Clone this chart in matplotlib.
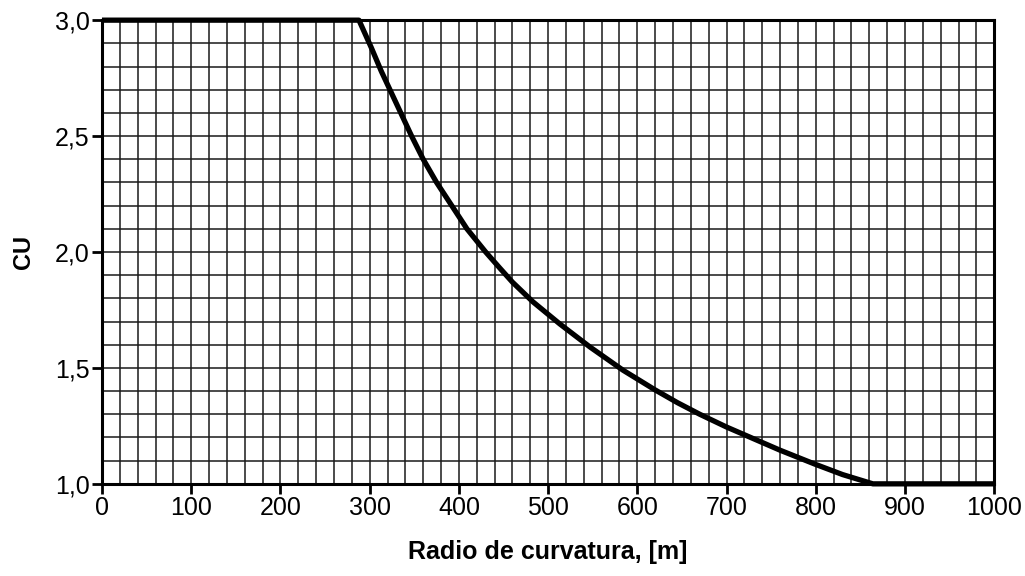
import numpy as np
import matplotlib
matplotlib.use('Agg')
import matplotlib.pyplot as plt
from matplotlib.ticker import MultipleLocator, FuncFormatter

# values
radio = [0, 288, 302, 313, 330, 347, 360, 375, 392, 409, 430, 446, 460, 483,
         513, 547, 584, 620, 645, 670, 700, 721, 760, 799, 830, 864, 1000]
cu = [3.0, 3.0, 2.88, 2.78, 2.64, 2.5, 2.4, 2.3, 2.2, 2.1, 2.0, 1.93, 1.87,
      1.785, 1.69, 1.59, 1.49, 1.405, 1.35, 1.3, 1.245, 1.21, 1.145, 1.085,
      1.04, 1.0, 1.0]
x_ticks = [0, 100, 200, 300, 400, 500, 600, 700, 800, 900, 1000]
y_ticks = [1.0, 1.5, 2.0, 2.5, 3.0]

plt.rcParams['font.family'] = ['Liberation Sans', 'DejaVu Sans']

fig = plt.figure(figsize=(10.25, 5.76), dpi=100)
ax = fig.add_axes([0.0995, 0.160, 0.8705, 0.805])

ax.set_xlim(0, 1000)
ax.set_ylim(1.0, 3.0)
ax.set_xticks(x_ticks)
ax.set_yticks(y_ticks)
ax.xaxis.set_minor_locator(MultipleLocator(20))
ax.yaxis.set_minor_locator(MultipleLocator(0.1))
ax.yaxis.set_major_formatter(FuncFormatter(lambda v, p: f"{v:.1f}".replace('.', ',')))

ax.grid(which='both', color='#1a1a1a', linewidth=1.1)
ax.set_axisbelow(True)
ax.tick_params(which='minor', length=0)
ax.tick_params(which='major', direction='out', length=7, width=2,
               labelsize=18, pad=2)

for s in ax.spines.values():
    s.set_linewidth(2.2)
    s.set_color('black')

ax.plot(radio, cu, color='black', linewidth=3.8, solid_capstyle='butt',
        solid_joinstyle='round', clip_on=False, zorder=5)

ax.set_xlabel('Radio de curvatura, [m]', fontsize=18, fontweight='bold', labelpad=14)
ax.set_ylabel('CU', fontsize=17, fontweight='bold', labelpad=14)

fig.savefig('out.png', dpi=100)
